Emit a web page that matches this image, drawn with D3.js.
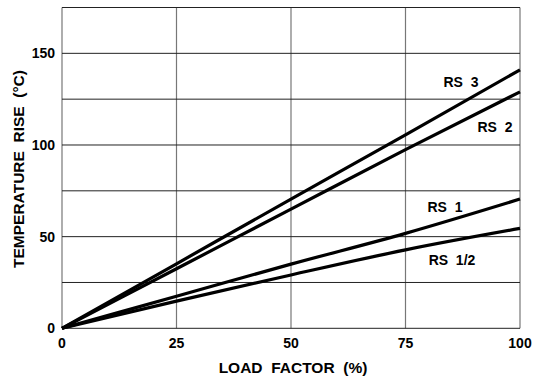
<!DOCTYPE html>
<html><head><meta charset="utf-8">
<script src="https://cdn.jsdelivr.net/npm/d3@7/dist/d3.min.js"></script>
<style>body{margin:0;background:#fff}text{font-family:"Liberation Sans",Arial,sans-serif;font-weight:bold;fill:#000}</style>
</head><body><svg id="c" width="533" height="379"></svg>
<script>
const loadFactor = [0, 25, 50, 75, 100];
const rs3 = [0, 35.2, 70.5, 105.5, 141];
const rs2 = [0, 32.5, 65, 97.5, 129];
const rs1 = [0, 17.5, 35, 51.8, 70.5];
const rsHalf = [0, 14.8, 29.1, 42.8, 54.5];
const seriesNames = ["RS  3", "RS  2", "RS  1", "RS  1/2"];
const xTicks = [0, 25, 50, 75, 100];
const yTicks = [0, 50, 100, 150];
const yGrid = [25, 75, 125, 175];

const svg = d3.select("#c");
const m = {l: 62, r: 520, t: 7.5, b: 328.3};
const x = d3.scaleLinear().domain([0, 100]).range([m.l, m.r]);
const y = d3.scaleLinear().domain([0, 175]).range([m.b, m.t]);

// grid
svg.append("g").selectAll("line").data(xTicks).join("line")
  .attr("x1", d => x(d)).attr("x2", d => x(d)).attr("y1", m.t).attr("y2", m.b)
  .attr("stroke", "#777").attr("stroke-width", 1.2);
svg.append("g").selectAll("line").data(yTicks.concat(yGrid)).join("line")
  .attr("x1", m.l).attr("x2", m.r).attr("y1", d => y(d)).attr("y2", d => y(d))
  .attr("stroke", "#222").attr("stroke-width", 1);

// axes labels
svg.append("g").selectAll("text").data(xTicks).join("text")
  .attr("x", d => x(d)).attr("y", 348).attr("text-anchor", "middle")
  .style("font-size", "14px").text(d => d);
svg.append("g").selectAll("text").data(yTicks).join("text")
  .attr("x", 55).attr("y", d => y(d) + 5).attr("text-anchor", "end")
  .style("font-size", "14px").text(d => d);

svg.append("text").attr("x", (m.l + m.r) / 2 + 2).attr("y", 373).attr("text-anchor", "middle")
  .style("font-size", "15.5px").style("white-space", "pre").text("LOAD  FACTOR  (%)");
svg.append("text").attr("transform", `translate(24,169) rotate(-90)`)
  .attr("text-anchor", "middle").style("font-size", "15.5px").style("white-space", "pre")
  .text("TEMPERATURE  RISE  (°C)");

const series = [rs3, rs2, rs1, rsHalf];
const line = d3.line().x((d, i) => x(loadFactor[i])).y(d => y(d)).curve(d3.curveMonotoneX);
svg.append("g").selectAll("path").data(series).join("path")
  .attr("d", d => line(d)).attr("fill", "none").attr("stroke", "#000").attr("stroke-width", 3.2);

const labelPos = [[461, 87], [495, 132], [445, 212], [452, 265]];
svg.append("g").selectAll("text").data(seriesNames).join("text")
  .attr("x", (d, i) => labelPos[i][0]).attr("y", (d, i) => labelPos[i][1])
  .attr("text-anchor", "middle").style("font-size", "14px").style("white-space", "pre")
  .text(d => d);
</script></body></html>
